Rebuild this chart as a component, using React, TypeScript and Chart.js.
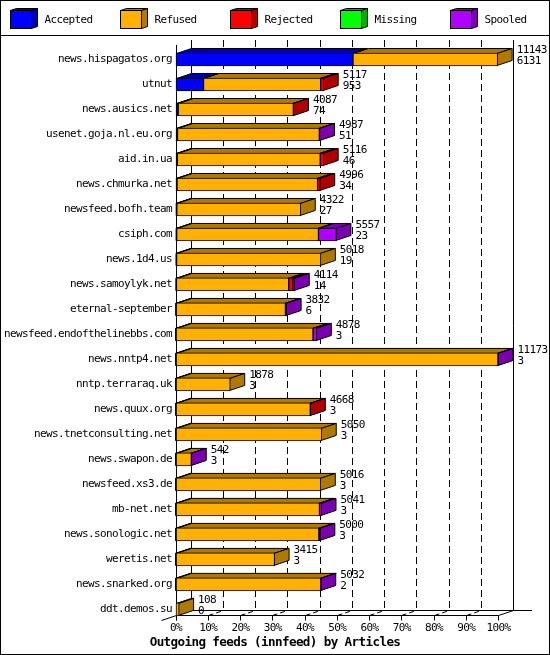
import { useEffect, useRef } from 'react';
import { Chart, registerables } from 'chart.js';

Chart.register(...registerables);

const hosts = [
    'news.hispagatos.org', 'utnut', 'news.ausics.net', 'usenet.goja.nl.eu.org', 'aid.in.ua',
    'news.chmurka.net', 'newsfeed.bofh.team', 'csiph.com', 'news.1d4.us', 'news.samoylyk.net',
    'eternal-september', 'newsfeed.endofthelinebbs.com', 'news.nntp4.net', 'nntp.terraraq.uk', 'news.quux.org',
    'news.tnetconsulting.net', 'news.swapon.de', 'newsfeed.xs3.de', 'mb-net.net', 'news.sonologic.net',
    'weretis.net', 'news.snarked.org', 'ddt.demos.su',
];
const totals = [11143, 5117, 4087, 4987, 5116, 4996, 4322, 5557, 5018, 4114, 3832, 4878, 11173, 1878, 4668, 5050, 542, 5016, 5041, 5000, 3415, 5032, 108];
const accepted = [6131, 953, 74, 51, 46, 34, 27, 23, 19, 14, 6, 3, 3, 3, 3, 3, 3, 3, 3, 3, 3, 2, 0];
const refused = [5012, 4060, 3993, 4916, 4950, 4872, 4295, 4914, 4999, 3890, 3786, 4745, 11150, 1875, 4650, 5047, 529, 5013, 4968, 4947, 3412, 5015, 108];
const rejected = [0, 104, 20, 0, 120, 90, 0, 0, 0, 150, 0, 0, 0, 0, 15, 0, 0, 0, 0, 0, 0, 0, 0];
const missing = [0, 0, 0, 0, 0, 0, 0, 0, 0, 0, 0, 0, 0, 0, 0, 0, 0, 0, 0, 0, 0, 0, 0];
const spooled = [0, 0, 0, 20, 0, 0, 0, 620, 0, 60, 40, 130, 20, 0, 0, 0, 10, 0, 70, 50, 0, 15, 0];

const seriesNames = ['Accepted', 'Refused', 'Rejected', 'Missing', 'Spooled'];
const seriesValues = [accepted, refused, rejected, missing, spooled];
const frontColors = ['#0000FF', '#FFB000', '#FF0000', '#00FF00', '#B000FF'];
const shadeColors = ['#0000B0', '#B07A00', '#B00000', '#00B000', '#7A00B0'];

const MAX_ARTICLES = 11173;
const SLIVER = 60; // pieces this small are only their black outline
const MONO = '"DejaVu Sans Mono"';
const TEXT_SIZE = 11;
const DEPTH_X = 15;
const DEPTH_Y = 5;
const FLOOR_Y = 615.5;
const BACK_FLOOR_Y = 610.5;
const BACK_TOP_Y = 40;

function line(ctx: CanvasRenderingContext2D, x1: number, y1: number, x2: number, y2: number) {
    ctx.beginPath();
    ctx.moveTo(x1, y1);
    ctx.lineTo(x2, y2);
    ctx.stroke();
}

function face(ctx: CanvasRenderingContext2D, points: number[][], fill: string) {
    ctx.beginPath();
    points.forEach(([x, y], i) => (i ? ctx.lineTo(x, y) : ctx.moveTo(x, y)));
    ctx.closePath();
    ctx.fillStyle = fill;
    ctx.fill();
    ctx.stroke();
}

// white page, frame and the legend strip
const framePlugin = {
    id: 'frame',
    afterLayout(chart: any) {
        // the title is centred on the whole image, not on the padded area
        chart.titleBlock.left = 0;
        chart.titleBlock.right = chart.width;
    },
    beforeDraw(chart: any) {
        const ctx = chart.ctx;
        ctx.fillStyle = '#FFFFFF';
        ctx.fillRect(0, 0, chart.width, chart.height);
        // the reference font is tall and narrow, 6px a character
        ctx.letterSpacing = '-0.62px';
    },
    afterDraw(chart: any) {
        const ctx = chart.ctx;
        ctx.save();
        ctx.strokeStyle = '#000000';
        ctx.lineWidth = 1;
        ctx.strokeRect(0.5, 0.5, chart.width - 1, chart.height - 1);
        line(ctx, 0, 35.5, chart.width, 35.5);
        ctx.font = TEXT_SIZE + 'px ' + MONO;
        ctx.textBaseline = 'middle';
        seriesNames.forEach((name, i) => {
            const x = 10.5 + i * 110;
            face(ctx, [[x, 10.5], [x + 6, 8.5], [x + 27, 8.5], [x + 21, 10.5]], shadeColors[i]);
            face(ctx, [[x + 21, 10.5], [x + 27, 8.5], [x + 27, 26.5], [x + 21, 28.5]], shadeColors[i]);
            ctx.fillStyle = frontColors[i];
            ctx.fillRect(x, 10.5, 21, 18);
            ctx.strokeRect(x, 10.5, 21, 18);
            ctx.fillStyle = '#000000';
            ctx.fillText(name, 44.5 + i * 110, 20);
        });
        ctx.restore();
    },
};

// back wall, floor and tick marks, then the top and side of every bar piece
const depthPlugin = {
    id: 'depth',
    beforeDatasetsDraw(chart: any) {
        const ctx = chart.ctx;
        const xScale = chart.scales.x;
        const left = Math.floor(xScale.left) + 0.5;
        const right = Math.floor(xScale.right) + 0.5;
        ctx.save();
        ctx.strokeStyle = '#000000';
        ctx.lineWidth = 1;

        xScale.ticks.forEach((tick: any, i: number) => {
            const x = Math.floor(xScale.getPixelForValue(tick.value)) + 0.5;
            line(ctx, x, FLOOR_Y, x, FLOOR_Y + 5);
            if (i > 0 && i < xScale.ticks.length - 1) {
                ctx.setLineDash([7, 4]);
                line(ctx, x + DEPTH_X, BACK_TOP_Y, x + DEPTH_X, BACK_FLOOR_Y);
                ctx.setLineDash([5, 3]);
                line(ctx, x, FLOOR_Y, x + DEPTH_X, BACK_FLOOR_Y);
                ctx.setLineDash([]);
            }
        });

        line(ctx, left, 45, left, FLOOR_Y + 5);
        line(ctx, left + DEPTH_X, BACK_TOP_Y, left + DEPTH_X, BACK_FLOOR_Y);
        line(ctx, right + DEPTH_X, BACK_TOP_Y, right + DEPTH_X, BACK_FLOOR_Y);
        line(ctx, left + DEPTH_X, BACK_FLOOR_Y, 532, BACK_FLOOR_Y);
        line(ctx, left, FLOOR_Y, right, FLOOR_Y);
        line(ctx, right, FLOOR_Y, right + DEPTH_X, BACK_FLOOR_Y);
        line(ctx, left - DEPTH_X, FLOOR_Y + 5, left + DEPTH_X, BACK_FLOOR_Y);

        chart.data.datasets.forEach((dataset: any, d: number) => {
            chart.getDatasetMeta(d).data.forEach((bar: any, i: number) => {
                if (!dataset.data[i]) return;
                const top = bar.y - bar.height / 2 + 0.5;
                const bottom = bar.y + bar.height / 2 - 0.5;
                const start = bar.base + 0.5;
                const end = bar.x - 0.5;
                const shade = shadeColors[d];
                face(ctx, [[start, top], [start + DEPTH_X, top - DEPTH_Y], [end + DEPTH_X, top - DEPTH_Y], [end, top]], shade);
                face(ctx, [[end, top], [end + DEPTH_X, top - DEPTH_Y], [end + DEPTH_X, bottom - DEPTH_Y], [end, bottom]], shade);
            });
        });
        ctx.restore();
    },
    afterDatasetsDraw(chart: any) {
        const ctx = chart.ctx;
        const xScale = chart.scales.x;
        const yScale = chart.scales.y;
        ctx.save();
        ctx.fillStyle = '#000000';
        ctx.font = TEXT_SIZE + 'px ' + MONO;
        ctx.textBaseline = 'middle';
        totals.forEach((total, i) => {
            const x = xScale.getPixelForValue(total) + 19;
            const y = yScale.getPixelForValue(i);
            ctx.fillText(String(total), x, y - 9.5);
            ctx.fillText(String(accepted[i]), x, y + 1.5);
        });
        ctx.restore();
    },
};

const App = () => {
    const chartRef = useRef<HTMLCanvasElement | null>(null);

    useEffect(() => {
        if (!chartRef.current) return;
        const myChart = new Chart(chartRef.current, {
            type: 'bar',
            data: {
                labels: hosts,
                datasets: seriesNames.map((name, i) => ({
                    label: name,
                    data: seriesValues[i],
                    backgroundColor: (c: any) => (c.raw < SLIVER ? '#000000' : frontColors[i]),
                    borderColor: '#000000',
                    borderWidth: 1,
                    borderSkipped: false,
                    barThickness: 13,
                    clip: false,
                })),
            },
            options: {
                indexAxis: 'y',
                responsive: false,
                animation: false,
                devicePixelRatio: 1,
                events: [],
                layout: { padding: { top: 47, right: 51.5 } },
                scales: {
                    x: {
                        stacked: true,
                        min: 0,
                        max: MAX_ARTICLES,
                        grid: { display: false, drawTicks: false },
                        border: { display: false },
                        afterFit: (scale: any) => { scale.height = 13; },
                        ticks: {
                            count: 11,
                            padding: 0,
                            maxRotation: 0,
                            autoSkip: false,
                            color: '#000000',
                            font: { family: MONO, size: TEXT_SIZE },
                            callback: (value: any) => Math.round(Number(value) / MAX_ARTICLES * 100) + '%',
                        },
                    },
                    y: {
                        stacked: true,
                        grid: { display: false, drawTicks: false },
                        border: { display: false },
                        afterFit: (scale: any) => { scale.width = 176; },
                        ticks: {
                            padding: 4,
                            autoSkip: false,
                            color: '#000000',
                            font: { family: MONO, size: TEXT_SIZE },
                        },
                    },
                },
                plugins: {
                    legend: { display: false },
                    tooltip: { enabled: false },
                    title: {
                        display: true,
                        text: 'Outgoing feeds (innfeed) by Articles',
                        position: 'bottom',
                        color: '#000000',
                        font: { family: MONO, size: 12.6, weight: 'bold' },
                        padding: { top: 0, bottom: 5 },
                    },
                },
            },
            plugins: [framePlugin, depthPlugin],
        } as any);

        return () => {
            myChart.destroy();
        };
    }, []);

    return (
        <div style={{ position: 'absolute', left: 0, top: 0, width: 550, height: 655 }}>
            <canvas ref={chartRef} width={550} height={655} style={{ display: 'block' }}></canvas>
        </div>
    );
};

export default App;
